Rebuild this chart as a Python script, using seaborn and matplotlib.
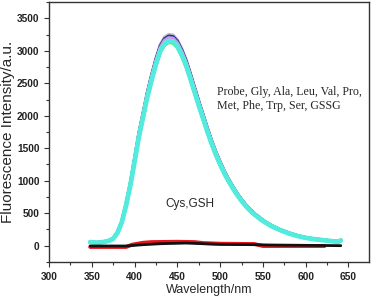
import numpy as np
import pandas as pd
import matplotlib
matplotlib.use('Agg')
import matplotlib.pyplot as plt
from matplotlib.ticker import MultipleLocator
import seaborn as sns

# Emission spectrum shared by the non-thiol analytes
wavelength = [348, 355, 360, 365, 370, 375, 380, 385, 390, 395, 400, 405, 410, 415,
              420, 425, 430, 435, 440, 445, 450, 455, 460, 465, 470, 475, 480, 485,
              490, 495, 500, 505, 510, 515, 520, 525, 530, 535, 540, 550, 560, 570,
              580, 590, 600, 610, 620, 630, 638, 641]
profile = [55, 45, 50, 60, 75, 108, 200, 360, 620, 930, 1300, 1680, 1990, 2300,
           2560, 2800, 3000, 3110, 3150, 3140, 3070, 2940, 2780, 2580, 2370, 2160,
           1960, 1760, 1570, 1400, 1250, 1110, 990, 880, 780, 690, 610, 540, 480,
           380, 300, 240, 190, 150, 120, 100, 85, 70, 60, 80]

analytes = ['Probe', 'Gly', 'Ala', 'Leu', 'Val', 'Pro', 'Met', 'Phe', 'Trp', 'Ser', 'GSSG']
peaks = [3250, 3225, 3210, 3200, 3190, 3180, 3170, 3160, 3140, 3130, 3150]
colors = ['#b8bcc0', '#2b1d8c', '#3a5bd9', '#e08ad8', '#b0b0ff', '#ff66cc',
          '#9ad0f0', '#d4ff33', '#66ff33', '#44dd44', '#52ecde']

# Cys / GSH stay near the baseline
cys_wl = [348, 390, 397, 410, 420, 450, 470, 480, 500, 540, 550, 622]
cys_val = [-20, -20, 15, 45, 55, 60, 55, 40, 30, 25, -5, -5]
gsh_wl = [348, 390, 410, 430, 460, 480, 500, 540, 560, 600, 641]
gsh_val = [-5, -5, 15, 30, 40, 30, 20, 15, 10, 5, 0]

frames = []
for name, pk in zip(analytes, peaks):
    frames.append(pd.DataFrame({'wl': wavelength,
                                'val': np.array(profile) * pk / max(profile),
                                'sample': name}))
df = pd.concat(frames, ignore_index=True)

sns.set_style('ticks')
plt.rcParams['font.family'] = ['Liberation Sans', 'DejaVu Sans']

fig = plt.figure(figsize=(3.72, 3.0), dpi=100)
ax = fig.add_axes([0.132, 0.127, 0.860, 0.866])

sns.lineplot(data=df[df['sample'] != 'GSSG'], x='wl', y='val', hue='sample',
             palette=colors[:-1], linewidth=2.4, legend=False, ax=ax, sort=False)
sns.lineplot(data=df[df['sample'] == 'GSSG'], x='wl', y='val', color=colors[-1],
             linewidth=3.4, ax=ax, sort=False)
sns.lineplot(x=cys_wl, y=cys_val, color='#e8141c', linewidth=2.8, ax=ax)
sns.lineplot(x=gsh_wl, y=gsh_val, color='#111111', linewidth=2.0, ax=ax)

ax.set_xlim(300, 674)
ax.set_ylim(-250, 3750)
ax.xaxis.set_major_locator(MultipleLocator(50))
ax.xaxis.set_minor_locator(MultipleLocator(25))
ax.yaxis.set_major_locator(MultipleLocator(500))
ax.yaxis.set_minor_locator(MultipleLocator(250))
ax.tick_params(which='both', direction='out', top=False, right=False,
               labelsize=7.3, width=0.8, color='#333333')
ax.tick_params(which='major', length=3.5)
ax.tick_params(which='minor', length=2)
for lab in ax.get_xticklabels() + ax.get_yticklabels():
    lab.set_fontweight('bold')
    lab.set_color('#222222')
for sp in ax.spines.values():
    sp.set_visible(True)
    sp.set_color('#333333')
    sp.set_linewidth(1.0)

ax.set_xlabel('Wavelength/nm', fontsize=9, labelpad=2)
ax.set_ylabel('Fluorescence Intensity/a.u.', fontsize=11, labelpad=1)

ax.text(496, 2060, 'Probe, Gly, Ala, Leu, Val, Pro,\nMet, Phe, Trp, Ser, GSSG',
        family=['Liberation Serif'], fontsize=8.6, linespacing=1.25, va='bottom')
ax.text(436, 640, 'Cys,GSH', fontsize=8.5, va='center')

fig.savefig('out.png', dpi=100)
